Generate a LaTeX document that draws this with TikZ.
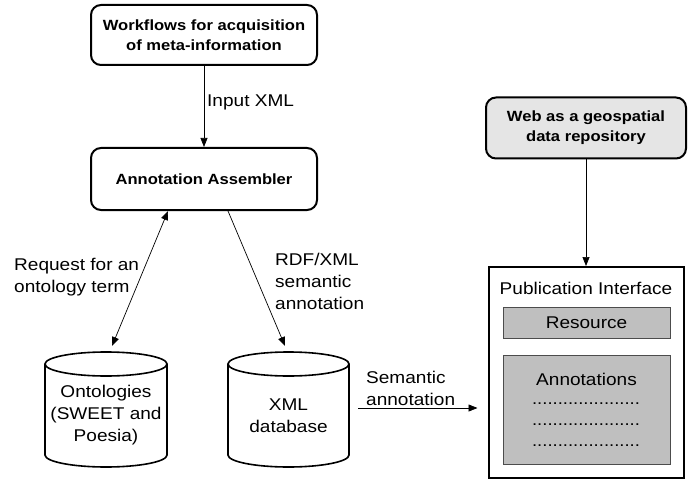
\documentclass[tikz,border=0pt]{standalone}
\usepackage{fontspec}
\setmainfont[FakeStretch=1.12]{Liberation Sans}
\usetikzlibrary{arrows.meta}
\begin{document}
\begin{tikzpicture}[x=1pt,y=-1pt,
  lbl/.style={font=\fontsize{17}{22}\selectfont, inner sep=0pt, align=left},
  bbox/.style={draw, line width=2pt, rounded corners=10pt, font=\bfseries\fontsize{14.8}{20}\selectfont, align=center, inner sep=0pt},
  arr/.style={-{Triangle[length=9pt,width=7pt]}, line width=0.7pt},
  darr/.style={{Triangle[length=9pt,width=7pt]}-{Triangle[length=9pt,width=7pt]}, line width=0.7pt},
  cyl/.style={line width=1.6pt},
  gbox/.style={draw=black!70, fill=black!25, line width=0.8pt, inner sep=0pt},
  dots/.style={font=\fontsize{16.5}{22}\selectfont, inner sep=0pt}
]
\useasboundingbox (0,0) rectangle (690,481);
% boxes
\node[bbox, minimum width=226pt, minimum height=60pt] (wf) at (204,35) {Workflows for acquisition\\of meta-information};
\node[bbox, minimum width=226pt, minimum height=62pt] (aa) at (204,179) {Annotation Assembler};
\node[bbox, fill=black!10, minimum width=200pt, minimum height=61pt] (web) at (586,128) {Web as a geospatial\\data repository};
\node[draw, line width=2pt, minimum width=195pt, minimum height=211pt, inner sep=0pt] (pub) at (586,372.5) {};
\node[lbl] (pubt) at (586,288) {Publication Interface};
\node[gbox, lbl, minimum width=167pt, minimum height=31pt] (res) at (586.5,322.5) {Resource};
\node[gbox, minimum width=167pt, minimum height=109pt] (ann) at (586.5,409.5) {};
\node[lbl, align=center] (annt) at (586.5,379) {Annotations};
\node[dots] (d1) at (586,404) {.....................};
\node[dots] (d2) at (586,425) {.....................};
\node[dots] (d3) at (586,446) {.....................};
% cylinders
\draw[cyl] (45,364) -- (45,455) arc[start angle=180,end angle=360,x radius=61pt,y radius=12pt] -- (167,364);
\draw[cyl] (106,364) ellipse[x radius=61pt,y radius=12pt];
\draw[cyl] (228,364) -- (228,455) arc[start angle=180,end angle=360,x radius=60.5pt,y radius=12pt] -- (349,364);
\draw[cyl] (288.5,364) ellipse[x radius=60.5pt,y radius=12pt];
\node[lbl, align=center] (ont) at (106,415) {Ontologies\\(SWEET and\\Poesia)};
\node[lbl, align=center] (xml) at (288.5,416) {XML\\database};
\coordinate (ontTop) at (112,346);
\coordinate (xmlTop) at (285,346);
\coordinate (xmlR) at (358,408);
% connectors
\draw[arr] (wf.south) -- (aa.north);
\node[lbl, anchor=west] (inxml) at (207,102) {Input XML};
\draw[darr] ([xshift=-36pt]aa.south) -- (ontTop);
\draw[arr] ([xshift=24pt]aa.south) -- (xmlTop);
\node[lbl, anchor=west] (req) at (14,277) {Request for an\\ontology term};
\node[lbl, anchor=west] (rdf) at (275,281) {RDF/XML\\semantic\\annotation};
\draw[arr] (xmlR) -- ([xshift=-10pt]pub.west |- xmlR);
\node[lbl, anchor=west] (sem) at (366,388) {Semantic\\annotation};
\draw[arr] (web.south) -- (pub.north);
\end{tikzpicture}
\end{document}
